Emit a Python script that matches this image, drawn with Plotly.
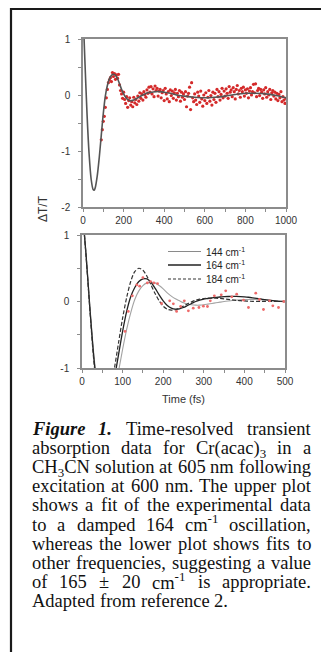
import re
import plotly.graph_objects as go

W, H = 321, 652

# ---------------- data ----------------
upper_t_fit = [0, 10, 20, 30, 40, 50, 55, 60, 70, 80, 90, 100, 110, 120, 130, 140, 150, 160, 170,
               180, 190, 200, 210, 220, 230, 240, 250, 260, 280, 300, 320, 340, 360, 380, 400,
               430, 460, 500, 550, 600, 650, 700, 750, 800, 850, 900, 950, 1000]
upper_fit = [1.5, 0.55, -0.35, -1.05, -1.5, -1.69, -1.70, -1.66, -1.45, -1.12, -0.72, -0.33, -0.02,
             0.17, 0.29, 0.35, 0.37, 0.35, 0.29, 0.20, 0.10, 0.02, -0.04, -0.08, -0.10, -0.10, -0.09,
             -0.07, -0.03, 0.01, 0.04, 0.05, 0.06, 0.06, 0.05, 0.03, 0.00, -0.02, -0.04, -0.05,
             -0.04, -0.02, 0.01, 0.03, 0.03, 0.02, -0.01, -0.05]

upper_t_data = list(range(90, 1001, 5))
upper_data = [
    -0.80, -0.62, -0.47, -0.38, -0.22, -0.05, 0.10, 0.22, 0.27, 0.31, 0.24, 0.40, 0.33, 0.38,
    0.28, 0.36, 0.30, 0.37, 0.18, 0.08, 0.02, -0.06, 0.05, -0.08, -0.15, -0.03, -0.22, -0.10,
    -0.05, -0.18, -0.12, -0.21, -0.04, -0.14, -0.08, -0.17, -0.02, -0.11, 0.04, -0.06, 0.02,
    -0.09, 0.06, 0.00, -0.04, 0.09, 0.03, 0.14, 0.05, 0.15, 0.02, 0.11, -0.03, 0.16, 0.08,
    0.12, -0.02, 0.07, 0.10, -0.05, 0.04, 0.08, -0.10, 0.12, 0.02, -0.07, 0.06, -0.12, 0.09,
    -0.01, 0.07, -0.06, 0.04, 0.10, -0.09, 0.03, -0.03, 0.08, -0.11, 0.05, -0.04, 0.02, -0.08,
    0.06, -0.21, -0.02, 0.03, 0.14, -0.26, 0.22, -0.05, -0.12, 0.02, -0.09, -0.17, 0.05, -0.02,
    -0.13, 0.07, -0.07, -0.20, 0.00, -0.10, 0.04, -0.15, -0.04, 0.08, -0.11, -0.01, -0.18, 0.05,
    -0.08, 0.03, -0.13, 0.10, -0.03, 0.06, -0.09, 0.01, 0.12, -0.05, 0.07, -0.02, 0.11, 0.03,
    -0.06, 0.15, 0.05, 0.09, -0.03, 0.13, 0.06, -0.07, 0.10, 0.17, 0.02, 0.08, -0.04, 0.12,
    0.06, 0.14, -0.02, 0.09, 0.03, 0.11, -0.05, 0.07, 0.13, 0.00, 0.06, 0.19, 0.04, 0.20,
    -0.03, 0.08, 0.12, -0.01, 0.10, 0.05, -0.06, 0.09, 0.02, 0.13, -0.04, 0.06, 0.00, 0.10,
    -0.08, 0.04, 0.08, -0.02, 0.05, -0.07, 0.03, -0.10, 0.01, -0.05, 0.06, -0.12, -0.03,
    -0.09, -0.15, -0.06]

lower_t_fit = list(range(0, 501, 10))
fit_144 = [1.45, 0.72, -0.12, -0.85, -1.38, -1.68, -1.74, -1.62, -1.35, -1.05, -0.72, -0.42,
           -0.17, 0.03, 0.16, 0.24, 0.28, 0.29, 0.28, 0.24, 0.19, 0.13, 0.08, 0.04, 0.01, -0.02,
           -0.04, -0.05, -0.055, -0.055, -0.05, -0.04, -0.03, -0.02, -0.01, 0.0, 0.008, 0.015,
           0.02, 0.025, 0.028, 0.03, 0.03, 0.029, 0.026, 0.022, 0.017, 0.012, 0.007, 0.003, 0.0]
fit_164 = [1.45, 0.70, -0.15, -0.90, -1.40, -1.68, -1.70, -1.50, -1.15, -0.80, -0.45, -0.15,
           0.07, 0.21, 0.30, 0.34, 0.34, 0.29, 0.20, 0.10, 0.01, -0.06, -0.10, -0.115, -0.11,
           -0.09, -0.06, -0.03, 0.00, 0.02, 0.035, 0.045, 0.055, 0.062, 0.068, 0.072, 0.075,
           0.076, 0.076, 0.074, 0.07, 0.064, 0.056, 0.047, 0.038, 0.029, 0.02, 0.012, 0.006,
           0.002, 0.0]
fit_184 = [1.45, 0.68, -0.18, -0.95, -1.45, -1.68, -1.62, -1.35, -1.00, -0.62, -0.25, 0.06,
           0.30, 0.45, 0.50, 0.47, 0.38, 0.25, 0.12, 0.01, -0.07, -0.115, -0.13, -0.125, -0.10,
           -0.07, -0.035, -0.005, 0.02, 0.035, 0.045, 0.05, 0.052, 0.05, 0.046, 0.04, 0.033,
           0.025, 0.018, 0.012, 0.008, 0.005, 0.003, 0.002, 0.002, 0.002, 0.002, 0.001, 0.001,
           0.0, 0.0]

lower_t_data = [106, 114, 124, 135, 142, 150, 161, 169, 177, 186, 196, 216, 225, 233, 243, 252,
                262, 274, 288, 299, 309, 316, 326, 343, 354, 369, 381, 398, 410, 428, 437, 447,
                462, 470, 484, 497]
lower_data = [-0.45, -0.15, 0.085, 0.25, 0.23, 0.36, 0.28, 0.30, 0.28, 0.27, -0.03, 0.01, -0.035,
              -0.15, -0.075, 0.01, -0.14, -0.10, -0.09, -0.07, -0.075, 0.01, 0.085, 0.10, 0.16,
              0.07, 0.11, 0.02, -0.09, 0.125, 0.03, -0.12, 0.01, -0.065, -0.09, 0.0]

legend_names = ["144 cm<sup>-1</sup>", "164 cm<sup>-1</sup>", "184 cm<sup>-1</sup>"]

upper_xticks = [0, 200, 400, 600, 800, 1000]
upper_xlabels = ["0", "200", "400", "600", "800", "1000"]
upper_yticks = [1, 0, -1, -2]
upper_ylabels = ["1", "0", "-1", "-2"]
lower_xticks = [0, 100, 200, 300, 400, 500]
lower_xlabels = ["0", "100", "200", "300", "400", "500"]
lower_yticks = [1, 0, -1]
lower_ylabels = ["1", "0", "-1"]

caption_lines = [
    ["<b><i>Figure</i></b>", "<b><i>1.</i></b>", "Time-resolved", "transient"],
    ["absorption", "data", "for", "Cr(acac)<sub>3</sub>", "in", "a"],
    ["CH<sub>3</sub>CN", "solution", "at", "605", "nm", "following"],
    ["excitation", "at", "600", "nm.", "The", "upper", "plot"],
    ["shows", "a", "fit", "of", "the", "experimental", "data"],
    ["to", "a", "damped", "164", "cm<sup>-1</sup>", "oscillation,"],
    ["whereas", "the", "lower", "plot", "shows", "fits", "to"],
    ["other", "frequencies,", "suggesting", "a", "value"],
    ["of", "165", "±", "20", "cm<sup>-1</sup>", "is", "appropriate."],
    ["Adapted", "from", "reference", "2."],
]

# ---------------- helpers ----------------
def px(x):
    return x / W


def py(y):
    return 1 - y / H


TR = dict(zip("abcdefghijklmnopqrstuvwxyz",
              [444, 500, 444, 500, 444, 333, 500, 500, 278, 278, 500, 278, 778, 500, 500, 500,
               500, 333, 389, 278, 500, 500, 722, 500, 500, 444]))
TR.update(dict(zip("ABCDEFGHIJKLMNOPQRSTUVWXYZ",
                   [722, 667, 667, 722, 611, 556, 722, 722, 333, 389, 722, 611, 889, 722, 722,
                    556, 722, 667, 556, 611, 722, 722, 944, 722, 722, 611])))
TR.update({" ": 250, "(": 333, ")": 333, ",": 250, "-": 333, ".": 250, "±": 564})
for d in "0123456789":
    TR[d] = 500
BI = dict(TR)
BI.update({"F": 667, "i": 278, "g": 500, "u": 556, "r": 389, "e": 444, "1": 500, ".": 250})


def word_width(w, size):
    total = 0.0
    scale = 1.0
    bold = False
    for tok in re.split(r"(<[^>]+>)", w):
        if tok.startswith("<"):
            if tok in ("<sub>", "<sup>"):
                scale = 0.7
            elif tok in ("</sub>", "</sup>"):
                scale = 1.0
            elif tok == "<b>":
                bold = True
            elif tok == "</b>":
                bold = False
            continue
        tab = BI if bold else TR
        for ch in tok:
            total += tab.get(ch, 500) * scale
    return total / 1000.0 * size


# ---------------- figure ----------------
fig = go.Figure()

fig.add_trace(go.Scatter(x=upper_t_data, y=upper_data, mode="markers",
                         marker=dict(color="#d42a2a", size=3.2, line=dict(width=0)),
                         xaxis="x", yaxis="y", showlegend=False))
fig.add_trace(go.Scatter(x=upper_t_fit, y=upper_fit, mode="lines",
                         line=dict(color="#555555", width=1.6, shape="spline", smoothing=0.8),
                         xaxis="x", yaxis="y", showlegend=False))

fig.add_trace(go.Scatter(x=lower_t_fit, y=fit_144, mode="lines",
                         line=dict(color="#a3a3a3", width=1.1, shape="spline", smoothing=0.8),
                         xaxis="x2", yaxis="y2", showlegend=False))
fig.add_trace(go.Scatter(x=lower_t_fit, y=fit_164, mode="lines",
                         line=dict(color="#222222", width=1.3, shape="spline", smoothing=0.8),
                         xaxis="x2", yaxis="y2", showlegend=False))
fig.add_trace(go.Scatter(x=lower_t_fit, y=fit_184, mode="lines",
                         line=dict(color="#333333", width=1.2, dash="4px,2px", shape="spline",
                                   smoothing=0.8),
                         xaxis="x2", yaxis="y2", showlegend=False))
fig.add_trace(go.Scatter(x=lower_t_data, y=lower_data, mode="markers",
                         marker=dict(color="#ee6a6a", size=2.8, line=dict(width=0)),
                         xaxis="x2", yaxis="y2", showlegend=False))

axis_common = dict(showline=True, mirror=True, linecolor="#8c8c8c", linewidth=1.5,
                   showgrid=False, zeroline=False, ticks="outside", ticklen=3,
                   tickcolor="#8c8c8c", tickwidth=1, automargin=False,
                   tickfont=dict(family="Liberation Sans, Arial", size=10, color="#333333"))

fig.update_layout(
    template="none",
    width=W, height=H, autosize=False,
    margin=dict(l=0, r=0, t=0, b=0, pad=0, autoexpand=False),
    paper_bgcolor="white", plot_bgcolor="white",
    showlegend=False,
    xaxis=dict(domain=[px(83), px(286)], range=[0, 1000], anchor="y",
               tickmode="array", tickvals=upper_xticks, ticktext=upper_xlabels,
               minor=dict(dtick=100, ticks="outside", ticklen=3, tickcolor="#8c8c8c"),
               **axis_common),
    yaxis=dict(domain=[py(207), py(39)], range=[-2, 1], anchor="x",
               tickmode="array", tickvals=upper_yticks, ticktext=upper_ylabels,
               minor=dict(dtick=0.5, ticks="outside", ticklen=3, tickcolor="#8c8c8c"),
               ticklabelstandoff=6,
               **axis_common),
    xaxis2=dict(domain=[px(82), px(285)], range=[0, 500], anchor="y2",
                tickmode="array", tickvals=lower_xticks, ticktext=lower_xlabels,
                minor=dict(dtick=50, ticks="outside", ticklen=3, tickcolor="#8c8c8c"),
                **axis_common),
    yaxis2=dict(domain=[py(368), py(235)], range=[-1, 1], anchor="x2",
                tickmode="array", tickvals=lower_yticks, ticktext=lower_ylabels,
                minor=dict(dtick=0.5, ticks="outside", ticklen=3, tickcolor="#8c8c8c"),
                ticklabelstandoff=6,
                **axis_common),
)

shapes = []
annotations = []

# outer frame of the figure box
shapes.append(dict(type="rect", xref="paper", yref="paper",
                   x0=px(11), x1=px(W + 20), y0=py(H + 20), y1=py(9),
                   line=dict(color="#1a1a1a", width=2.2), fillcolor="rgba(0,0,0,0)"))

# legend (manual) in lower panel
leg_y = [251.5, 265, 279]
leg_styles = [dict(color="#8a8a8a", width=1.0),
              dict(color="#222222", width=1.3),
              dict(color="#333333", width=1.1, dash="3px,2px")]
for name, yy, st in zip(legend_names, leg_y, leg_styles):
    shapes.append(dict(type="line", xref="paper", yref="paper",
                       x0=px(168), x1=px(201), y0=py(yy), y1=py(yy), line=st))
    annotations.append(dict(text=name, xref="paper", yref="paper", x=px(204), y=py(yy),
                            xanchor="left", yanchor="middle", showarrow=False,
                            font=dict(family="Liberation Sans, Arial", size=10,
                                      color="#222222")))

# axis titles
annotations.append(dict(text="ΔT/T", xref="paper", yref="paper", x=px(43), y=py(208),
                        xanchor="center", yanchor="middle", showarrow=False, textangle=-90,
                        font=dict(family="Liberation Sans, Arial", size=12, color="#333333")))
annotations.append(dict(text="Time (fs)", xref="paper", yref="paper", x=px(183.5), y=py(399),
                        xanchor="center", yanchor="middle", showarrow=False,
                        font=dict(family="Liberation Sans, Arial", size=11, color="#333333")))

# caption, justified word by word
FS = 18.5
L, R = 32, 311
y0c, dy = 429, 19.1
for i, words in enumerate(caption_lines):
    widths = [word_width(w, FS) for w in words]
    if i == len(caption_lines) - 1:
        gap = 0.27 * FS
    else:
        gap = (R - L - sum(widths)) / (len(words) - 1)
    x = L
    yy = y0c + i * dy
    for w, wd in zip(words, widths):
        ys = 0
        if "<sup>" in w:
            ys = 1.3
        elif "<sub>" in w:
            ys = -1.3
        annotations.append(dict(text=w, xref="paper", yref="paper", x=px(x), y=py(yy),
                                xanchor="left", yanchor="middle", showarrow=False, yshift=ys,
                                borderpad=0, borderwidth=0,
                                font=dict(family="Liberation Serif, Times New Roman", size=FS,
                                          color="#111111")))
        x += wd + gap

fig.update_layout(shapes=shapes, annotations=annotations)

fig.write_html(
    "out.html",
    config={"responsive": False},
    post_script=("document.documentElement.style.overflow='hidden';"
                 "document.body.style.overflow='hidden';"
                 "document.body.style.margin='0';"),
)
